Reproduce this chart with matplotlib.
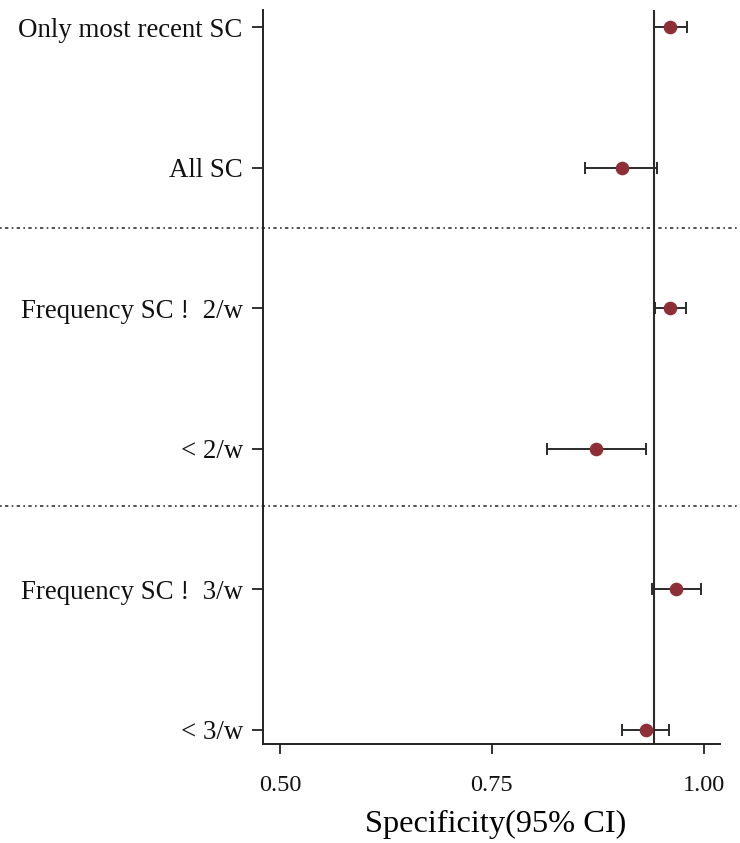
import matplotlib
matplotlib.use("Agg")
import matplotlib.pyplot as plt
import matplotlib.transforms as mtransforms

labels = ["Only most recent SC", "All SC", "Frequency SC !  2/w", "< 2/w",
          "Frequency SC !  3/w", "< 3/w"]
estimate = [0.960, 0.903, 0.960, 0.873, 0.967, 0.932]
ci_low = [0.941, 0.860, 0.9425, 0.8145, 0.939, 0.904]
ci_high = [0.980, 0.945, 0.979, 0.932, 0.997, 0.959]
ref_value = 0.941
xticks = [0.50, 0.75, 1.00]
xticklabels = ["0.50", "0.75", "1.00"]
separators = [4.57, 2.593]

plt.rcParams['font.family'] = ['Liberation Serif', 'DejaVu Serif']

fig = plt.figure(figsize=(7.4, 8.43), dpi=100)
ax = fig.add_axes([263/740, 99/843, (720-263)/740, (744-10)/843])

n = len(labels)
ypos = [n - i for i in range(n)]
err_lo = [e - l for e, l in zip(estimate, ci_low)]
err_hi = [h - e for e, h in zip(estimate, ci_high)]

ax.errorbar(estimate, ypos, xerr=[err_lo, err_hi], fmt='none', ecolor='#2b2b2b',
            elinewidth=1.4, capsize=4.3, capthick=1.4, zorder=2)
ax.plot(estimate, ypos, 'o', color='#8e2f37', markersize=8.8, zorder=3)
ax.axvline(ref_value, color='#2b2b2b', lw=1.5, zorder=1)

trans = mtransforms.blended_transform_factory(ax.transAxes, ax.transData)
for s in separators:
    ax.plot([-0.575, 1.05], [s, s], transform=trans, clip_on=False,
            color='#333333', lw=1.2, linestyle=(0, (1, 2, 2, 2)))

ax.set_xlim(0.480, 1.019)
ax.set_ylim(0.900, 6.121)
ax.set_yticks(ypos)
ax.set_yticklabels(labels, fontsize=19.4)
ax.set_xticks(xticks)
ax.set_xticklabels(xticklabels, fontsize=17.5)
ax.tick_params(axis='x', length=7.5, width=1.3, pad=15, colors='#222222')
ax.tick_params(axis='y', length=8, width=1.3, pad=6.5, colors='#222222')
for lab in ax.get_xticklabels() + ax.get_yticklabels():
    lab.set_color('#111111')
ax.set_xlabel("Specificity(95% CI)", fontsize=23.3, labelpad=10)
ax.xaxis.label.set_x(0.51)

for side in ['top', 'right']:
    ax.spines[side].set_visible(False)
for side in ['left', 'bottom']:
    ax.spines[side].set_linewidth(1.4)
    ax.spines[side].set_color('#222222')

fig.savefig("out.png", dpi=100)
